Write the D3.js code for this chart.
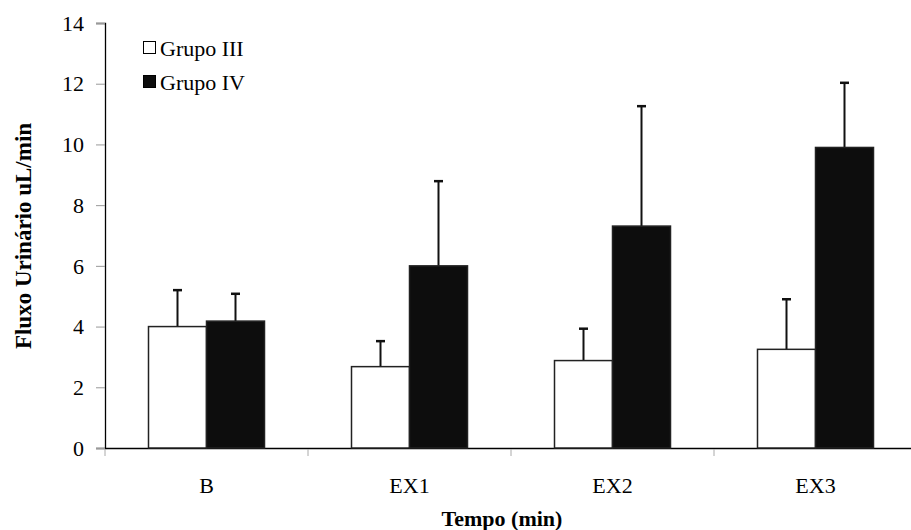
<!DOCTYPE html>
<html>
<head>
<meta charset="utf-8">
<script src="https://cdn.jsdelivr.net/npm/d3@7"></script>
<style>
  body { margin: 0; background: #fff; }
  svg text { font-family: "Liberation Serif", "Times New Roman", "DejaVu Serif", serif !important; fill: #000; }
</style>
</head>
<body>
<div id="chart"></div>
<script>
// categories and series
const categories = ["B", "EX1", "EX2", "EX3"];
const series = ["Grupo III", "Grupo IV"];
const grupoIII = [4.0, 2.68, 2.88, 3.25];
const grupoIII_err = [1.2, 0.84, 1.05, 1.65];
const grupoIV = [4.18, 6.0, 7.31, 9.9];
const grupoIV_err = [0.9, 2.79, 3.95, 2.13];
const yTicks = [0, 2, 4, 6, 8, 10, 12, 14];

const width = 911, height = 530;
const margin = { top: 23, left: 105, bottom: 82 };
const serif = '"Liberation Serif", "Times New Roman", serif';

const svg = d3.select("#chart").append("svg")
    .attr("width", width).attr("height", height);

const x = d3.scaleBand()
    .domain(categories)
    .range([margin.left, margin.left + 4 * 203]);

const inner = d3.scaleBand()
    .domain(series)
    .range([0, 116]);

const y = d3.scaleLinear()
    .domain([0, 14])
    .range([height - margin.bottom, margin.top]);

// y axis
const yAxis = svg.append("g")
    .attr("transform", `translate(${margin.left},0)`)
    .call(d3.axisLeft(y).tickValues(yTicks).tickSize(9).tickPadding(12));
yAxis.attr("font-family", serif);
yAxis.select(".domain").attr("stroke", "#000").attr("stroke-width", 1.3);
yAxis.selectAll(".tick line").attr("stroke", "#999");
yAxis.selectAll(".tick text").style("font-size", "22px").attr("dy", "0.33em");

// x axis
const xAxis = svg.append("g")
    .attr("transform", `translate(0,${y(0)})`)
    .call(d3.axisBottom(x).tickSize(0).tickPadding(29));
xAxis.attr("font-family", serif);
xAxis.select(".domain").attr("stroke", "#000").attr("stroke-width", 1.3);
xAxis.selectAll(".tick text").style("font-size", "22px");

// boundary ticks between categories
xAxis.selectAll(".bnd")
    .data(categories)
    .enter().append("line")
    .attr("class", "bnd")
    .attr("x1", d => x(d)).attr("x2", d => x(d))
    .attr("y1", 1).attr("y2", 8)
    .attr("stroke", "#aaa");

// bars
const rows = categories.map((c, i) => ({
    cat: c,
    vals: [
        { s: series[0], v: grupoIII[i], e: grupoIII_err[i] },
        { s: series[1], v: grupoIV[i], e: grupoIV_err[i] }
    ]
}));

const fills = { "Grupo III": "#fff", "Grupo IV": "#0d0d0d" };

const grp = svg.selectAll(".grp")
    .data(rows)
    .enter().append("g")
    .attr("class", "grp")
    .attr("transform", d => `translate(${x(d.cat) + (x.bandwidth() - 116) / 2},0)`);

// error bars (drawn first so the bar outline sits over them)
grp.selectAll(".err")
    .data(d => d.vals)
    .enter().append("g")
    .attr("class", "err")
    .each(function (d) {
        const cx = inner(d.s) + inner.bandwidth() / 2;
        const g = d3.select(this);
        g.append("line")
            .attr("x1", cx).attr("x2", cx)
            .attr("y1", y(d.v)).attr("y2", y(d.v + d.e))
            .attr("stroke", "#111").attr("stroke-width", 2);
        g.append("line")
            .attr("x1", cx - 4.5).attr("x2", cx + 4.5)
            .attr("y1", y(d.v + d.e)).attr("y2", y(d.v + d.e))
            .attr("stroke", "#111").attr("stroke-width", 2.5);
    });

grp.selectAll("rect")
    .data(d => d.vals)
    .enter().append("rect")
    .attr("x", d => inner(d.s))
    .attr("width", inner.bandwidth())
    .attr("y", d => y(d.v))
    .attr("height", d => y(0) - y(d.v))
    .attr("fill", d => fills[d.s])
    .attr("stroke", "#222")
    .attr("stroke-width", 1.5);

// legend
const legend = svg.append("g").attr("transform", "translate(143,41)");
series.forEach((s, i) => {
    const row = legend.append("g").attr("transform", `translate(0,${i * 34})`);
    row.append("rect")
        .attr("x", 0.5).attr("y", 0.5)
        .attr("width", 12).attr("height", 12)
        .attr("fill", fills[s]).attr("stroke", "#000").attr("stroke-width", 1);
    row.append("text")
        .attr("x", 17).attr("y", 15)
        .style("font-size", "22px")
        .text(s);
});

// axis titles
svg.append("text")
    .attr("x", (margin.left + 911) / 2 - 6)
    .attr("y", 526)
    .attr("text-anchor", "middle")
    .style("font-size", "22px")
    .style("font-weight", "bold")
    .text("Tempo (min)");

svg.append("text")
    .attr("transform", `translate(31,236) rotate(-90)`)
    .attr("text-anchor", "middle")
    .style("font-size", "23px")
    .style("font-weight", "bold")
    .text("Fluxo Urinário uL/min");
</script>
</body>
</html>
